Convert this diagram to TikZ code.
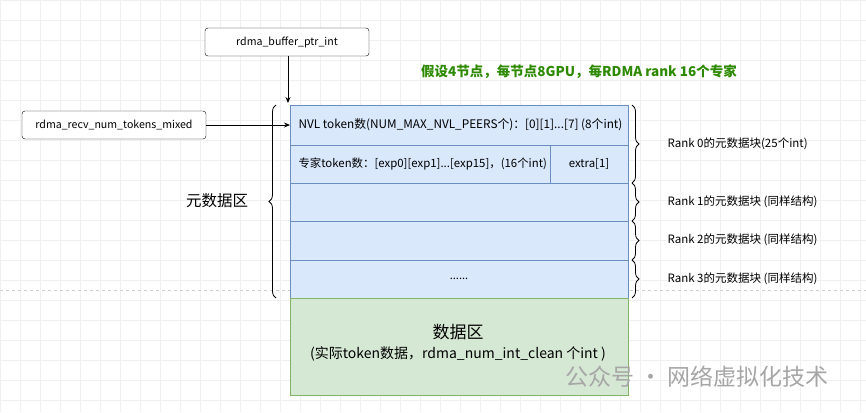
\documentclass[tikz,border=0pt]{standalone}
\usepackage{fontspec}
\setmainfont{Noto Sans CJK SC}
\usetikzlibrary{decorations.pathreplacing,arrows.meta}
\definecolor{bfill}{HTML}{DAE8FC}\definecolor{bline}{HTML}{6C8EBF}
\definecolor{gfill}{HTML}{D5E8D4}\definecolor{gline}{HTML}{82B366}
\definecolor{tgreen}{HTML}{2D8A00}
\tikzset{lbl/.style={draw=black,fill=white,rounded corners=3pt,minimum width=164pt,minimum height=28pt,font=\fontsize{10.6}{12}\selectfont,inner sep=0},
row/.style={draw=bline,fill=bfill},
arr/.style={-{Stealth[length=6pt,width=5pt]},thick},
br/.style={decorate,decoration={brace,amplitude=7pt},thick},
rl/.style={anchor=west,font=\fontsize{11.5}{13}\selectfont}}
\begin{document}
\begin{tikzpicture}[x=1pt,y=-1pt]
\useasboundingbox (0,0) rectangle (866,412);
\draw[black!6,step=20pt] (0,0) grid (866,412);
\draw[black!20,dashed] (0,290)--(866,290);
\node[lbl] (buf) at (287,42) {rdma\_buffer\_ptr\_int};
\node[lbl,minimum width=184pt] (recv) at (114,125) {rdma\_recv\_num\_tokens\_mixed};
\node[font=\fontsize{13.5}{15}\selectfont\bfseries,text=tgreen] (title) at (579,72) {假设4节点，每节点8GPU，每RDMA rank 16个专家};
\draw[row] (290,105) rectangle (628,145);
\draw[row] (290,145) rectangle (628,183);
\draw[bline] (550,145)--(550,183);
\draw[row] (290,183) rectangle (628,221);
\draw[row] (290,221) rectangle (628,260);
\draw[row] (290,260) rectangle (628,298);
\draw[draw=gline,fill=gfill] (290,298) rectangle (628,395);
\coordinate (top) at (288,103);
\coordinate (in) at (290,125);
\draw[arr] (buf.south -| top) -- (top);
\draw[arr] (recv.east) -- (in);
\node[anchor=west,font=\fontsize{11.8}{13}\selectfont] (nvl) at (295,125) {NVL token数(NUM\_MAX\_NVL\_PEERS个)：[0][1]...[7] (8个int)};
\node[anchor=west,font=\fontsize{11.4}{13}\selectfont] (exp) at (295,164) {专家token数：[exp0][exp1]...[exp15]，(16个int)};
\node[font=\fontsize{11.4}{13}\selectfont] (extra) at (589,164) {extra[1]};
\node[font=\fontsize{11}{13}\selectfont] (dots) at (459,279) {......};
\node[font=\fontsize{17}{19}\selectfont] (data) at (458,332) {数据区};
\node[font=\fontsize{14}{16}\selectfont] (data2) at (458,354) {(实际token数据，rdma\_num\_int\_clean 个int )};
\draw[br] (276,298) -- (276,105);
\node[font=\fontsize{15.5}{17}\selectfont] (meta) at (217,201) {元数据区};
\draw[br] (632,105) -- (632,183);
\draw[br] (632,183) -- (632,221);
\draw[br] (632,221) -- (632,260);
\draw[br] (632,260) -- (632,298);
\node[rl] (r0) at (664,144) {Rank 0的元数据块(25个int)};
\node[rl] (r1) at (664,202) {Rank 1的元数据块 (同样结构)};
\node[rl] (r2) at (664,240) {Rank 2的元数据块 (同样结构)};
\node[rl] (r3) at (664,279) {Rank 3的元数据块 (同样结构)};
\node[text=black!35,font=\fontsize{23}{25}\selectfont,anchor=west] (wm) at (562,377) {公众号 · 网络虚拟化技术};
\end{tikzpicture}
\end{document}
